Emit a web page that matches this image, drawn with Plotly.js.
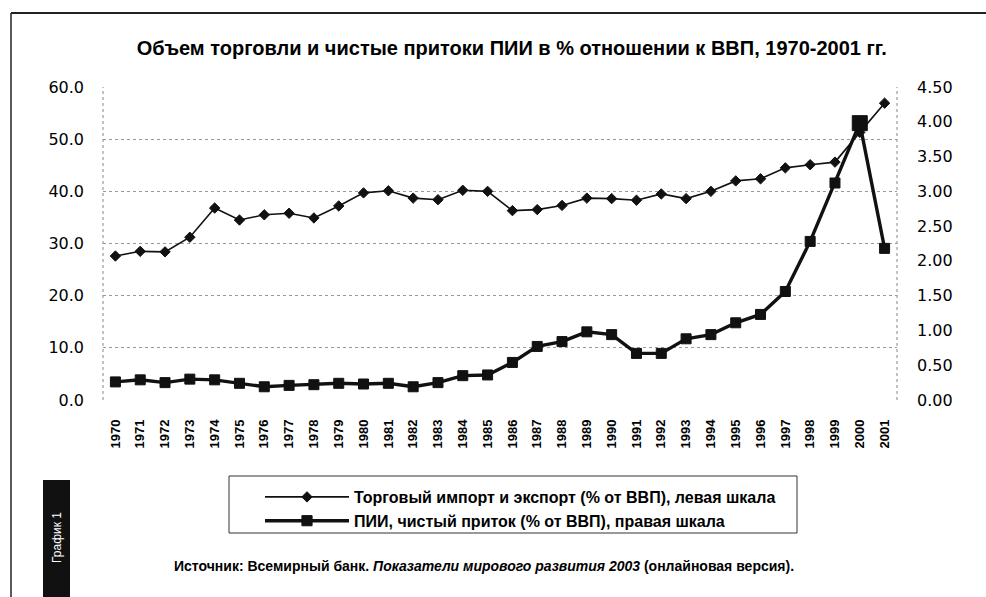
<!DOCTYPE html>
<html>
<head>
<meta charset="utf-8">
<script src="https://cdn.plot.ly/plotly-3.0.1.min.js"></script>
<style>html,body{margin:0;padding:0;background:#fff;}#chart{width:986px;height:597px;}</style>
</head>
<body>
<div id="chart"></div>
<script>
const years = ["1970","1971","1972","1973","1974","1975","1976","1977","1978","1979","1980","1981","1982","1983","1984","1985","1986","1987","1988","1989","1990","1991","1992","1993","1994","1995","1996","1997","1998","1999","2000","2001"];
const tradeValues = [27.6, 28.5, 28.4, 31.2, 36.8, 34.5, 35.5, 35.8, 34.9, 37.2, 39.7, 40.1, 38.7, 38.4, 40.2, 40.0, 36.3, 36.5, 37.3, 38.7, 38.6, 38.3, 39.5, 38.6, 40.0, 42.0, 42.4, 44.5, 45.1, 45.6, 51.3, 56.9];
const fdiValues = [0.26, 0.29, 0.25, 0.30, 0.29, 0.24, 0.19, 0.21, 0.22, 0.24, 0.23, 0.24, 0.19, 0.25, 0.35, 0.36, 0.54, 0.77, 0.84, 0.98, 0.94, 0.67, 0.67, 0.88, 0.94, 1.11, 1.23, 1.56, 2.28, 3.12, 3.98, 2.18];
const leftTicks = [0, 10, 20, 30, 40, 50, 60];
const rightTicks = [0, 0.5, 1, 1.5, 2, 2.5, 3, 3.5, 4, 4.5];
const titleText = "Объем торговли и чистые притоки ПИИ в % отношении к ВВП, 1970-2001 гг.";
const tradeName = "Торговый импорт и экспорт (% от ВВП), левая шкала";
const fdiName = "ПИИ, чистый приток (% от ВВП), правая шкала";
const sourceText = "Источник: Всемирный банк. <i>Показатели мирового развития 2003</i> (онлайновая версия).";
const tabText = "График 1";

const fdiSizes = years.map(y => y === "2000" ? 15 : 10);

const traces = [
  {
    x: years, y: tradeValues, name: tradeName, type: "scatter", mode: "lines+markers",
    yaxis: "y", line: {color: "#111", width: 1.6},
    marker: {symbol: "diamond", size: 8, color: "#111", opacity: 1, line: {color: "#111", width: 1}}
  },
  {
    x: years, y: fdiValues, name: fdiName, type: "scatter", mode: "lines+markers",
    yaxis: "y2", line: {color: "#111", width: 3.4},
    marker: {symbol: "square", size: fdiSizes, color: "#111", opacity: 1, line: {color: "#111", width: 1}}
  }
];

const px = v => (v - 103) / 794;
const py = v => (400 - v) / 313;

const layout = {
  width: 986, height: 597,
  margin: {l: 103, r: 89, t: 87, b: 197},
  paper_bgcolor: "#fff", plot_bgcolor: "#fff",
  showlegend: true,
  title: {text: titleText, x: 0.519, xanchor: "center", y: 0.92, yanchor: "middle",
          font: {family: "Liberation Sans, Arial, sans-serif", size: 20, color: "#000", weight: "bold"}},
  xaxis: {
    type: "category", range: [-0.5, 31.5], tickangle: -90, showgrid: false, zeroline: false, showline: false,
    ticks: "", ticklabelstandoff: 16,
    tickfont: {family: "Liberation Sans, Arial, sans-serif", size: 13, color: "#000", weight: "bold"}
  },
  yaxis: {
    range: [0, 60], tickvals: leftTicks, tickformat: ".1f",
    showgrid: true, gridcolor: "#999", griddash: "dot", gridwidth: 1,
    zeroline: false, showline: false, ticks: "", ticklabelstandoff: 18,
    tickfont: {family: "DejaVu Sans, Verdana, sans-serif", size: 16, color: "#000"}
  },
  yaxis2: {
    range: [0, 4.5], tickvals: rightTicks, tickformat: ".2f", overlaying: "y", side: "right",
    showgrid: false, zeroline: false, showline: false, ticks: "", ticklabelstandoff: 19,
    tickfont: {family: "DejaVu Sans, Verdana, sans-serif", size: 16, color: "#000"}
  },
  legend: {
    x: px(260), y: py(480), xanchor: "left", yanchor: "top",
    bgcolor: "rgba(0,0,0,0)", borderwidth: 0,
    itemwidth: 84, tracegroupgap: 0,
    font: {family: "Liberation Sans, Arial, sans-serif", size: 16, color: "#000", weight: "bold"}
  },
  shapes: [
    {type: "line", xref: "paper", yref: "paper", x0: 0, x1: 0, y0: 0, y1: 1, line: {color: "#888", width: 1, dash: "dot"}},
    {type: "line", xref: "paper", yref: "paper", x0: 1, x1: 1, y0: 0, y1: 1, line: {color: "#888", width: 1, dash: "dot"}},
    {type: "line", xref: "paper", yref: "paper", x0: px(11), x1: px(990), y0: py(13), y1: py(13), line: {color: "#222", width: 2}},
    {type: "line", xref: "paper", yref: "paper", x0: px(11), x1: px(11), y0: py(13), y1: py(600), line: {color: "#222", width: 1.5}},
    {type: "rect", xref: "paper", yref: "paper", x0: px(229), x1: px(797), y0: py(476), y1: py(533), line: {color: "#333", width: 1}},
    {type: "rect", xref: "paper", yref: "paper", x0: px(43), x1: px(70), y0: py(480), y1: py(600), fillcolor: "#111", line: {width: 0}}
  ],
  annotations: [
    {xref: "paper", yref: "paper", x: px(484), y: py(566), xanchor: "center", yanchor: "middle",
     text: sourceText, showarrow: false,
     font: {family: "Liberation Sans, Arial, sans-serif", size: 14, color: "#000", weight: "bold"}},
    {xref: "paper", yref: "paper", x: px(57), y: py(538), xanchor: "center", yanchor: "middle",
     text: tabText, textangle: -90, showarrow: false,
     font: {family: "Liberation Sans, Arial, sans-serif", size: 12, color: "#fff"}}
  ]
};

Plotly.newPlot("chart", traces, layout, {displayModeBar: false, staticPlot: true});
</script>
</body>
</html>
